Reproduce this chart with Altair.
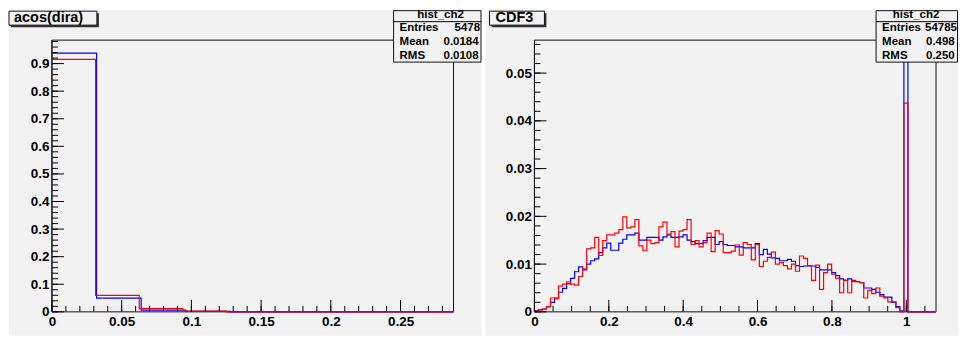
import altair as alt
import pandas as pd

FONT = "Liberation Sans"
BG = "#f2f2f2"
W, H = 402, 272
BOTTOM = 296  # bottom of the grey pads, relative to plot top

# ---------------- left panel: acos(dira) ----------------
acos_title = "acos(dira)"
acos_blue_width = 0.032
acos_red_width = 0.0313
acos_blue = [0.938, 0.0496, 0.0060, 0.0015, 0.0, 0.0, 0.0, 0.0, 0.0]
acos_red = [0.915, 0.0600, 0.0120, 0.0025, 0.0, 0.0, 0.0, 0.0, 0.0]
acos_xmax = 0.288
acos_ymax = 0.985
acos_xlabels = [0, 0.05, 0.1, 0.15, 0.2, 0.25]
acos_ylabels = [0, 0.1, 0.2, 0.3, 0.4, 0.5, 0.6, 0.7, 0.8, 0.9]
acos_xminor = [round(i * 0.01, 4) for i in range(0, 29)]
acos_yminor = [round(i * 0.02, 4) for i in range(0, 50)]
acos_stats = ["54785", "0.01848", "0.01087"]

# ---------------- right panel: CDF3 ----------------
cdf_title = "CDF3"
cdf_width = 0.0108
cdf_blue = [
    0.0002, 0.0004, 0.0006, 0.0011, 0.0020, 0.0029, 0.0041, 0.0049, 0.0059, 0.0070,
    0.0084, 0.0094, 0.0088, 0.0100, 0.0107, 0.0111, 0.0124, 0.0134, 0.0144, 0.0129,
    0.0129, 0.0144, 0.0152, 0.0161, 0.0161, 0.0165, 0.0150, 0.0150, 0.0156, 0.0156,
    0.0156, 0.0150, 0.0157, 0.0161, 0.0156, 0.0156, 0.0157, 0.0161, 0.0150, 0.0147,
    0.0143, 0.0143, 0.0149, 0.0156, 0.0156, 0.0141, 0.0147, 0.0141, 0.0139, 0.0139,
    0.0136, 0.0136, 0.0134, 0.0134, 0.0134, 0.0143, 0.0120, 0.0131, 0.0121, 0.0113,
    0.0112, 0.0107, 0.0107, 0.0110, 0.0106, 0.0097, 0.0095, 0.0096, 0.0096, 0.0096,
    0.0093, 0.0088, 0.0088, 0.0088, 0.0082, 0.0076, 0.0069, 0.0066, 0.0069, 0.0064,
    0.0063, 0.0061, 0.0050, 0.0050, 0.0047, 0.0041, 0.0036, 0.0031, 0.0031, 0.0020,
    0.0011, 0.0002, 0.0542, 0.0, 0.0, 0.0, 0.0, 0.0, 0.0, 0.0,
]
cdf_red = [
    0.0001, 0.0004, 0.0006, 0.0011, 0.0029, 0.0027, 0.0054, 0.0058, 0.0063, 0.0058,
    0.0056, 0.0074, 0.0090, 0.0132, 0.0134, 0.0156, 0.0118, 0.0149, 0.0161, 0.0161,
    0.0165, 0.0172, 0.0199, 0.0176, 0.0178, 0.0193, 0.0138, 0.0128, 0.0150, 0.0143,
    0.0145, 0.0178, 0.0188, 0.0163, 0.0168, 0.0136, 0.0169, 0.0172, 0.0193, 0.0141,
    0.0149, 0.0136, 0.0145, 0.0165, 0.0126, 0.0170, 0.0163, 0.0124, 0.0124, 0.0127,
    0.0140, 0.0119, 0.0145, 0.0141, 0.0109, 0.0141, 0.0095, 0.0106, 0.0114, 0.0125,
    0.0100, 0.0103, 0.0097, 0.0090, 0.0100, 0.0085, 0.0117, 0.0112, 0.0097, 0.0066,
    0.0098, 0.0047, 0.0082, 0.0100, 0.0079, 0.0070, 0.0040, 0.0066, 0.0040, 0.0066,
    0.0063, 0.0061, 0.0029, 0.0045, 0.0038, 0.0050, 0.0033, 0.0029, 0.0021, 0.0021,
    0.0009, 0.0000, 0.0437, 0.0, 0.0, 0.0, 0.0, 0.0, 0.0, 0.0,
]
cdf_xmax = 1.08
cdf_ymax = 0.0569
cdf_xlabels = [0, 0.2, 0.4, 0.6, 0.8, 1]
cdf_ylabels = [0, 0.01, 0.02, 0.03, 0.04, 0.05]
cdf_xminor = [round(i * 0.05, 4) for i in range(0, 22)]
cdf_yminor = [round(i * 0.002, 4) for i in range(0, 29)]
cdf_stats = ["54785", "0.4985", "0.2505"]

stat_name = "hist_ch2"
stat_labels = ["Entries", "Mean", "RMS"]

one = pd.DataFrame({"k": [0]})


def steps(values, width, xmax):
    rows = [{"x": round(i * width, 6), "y": v} for i, v in enumerate(values)]
    end = round(len(values) * width, 6)
    rows.append({"x": end, "y": values[-1]})
    if xmax > end + 1e-9:
        rows.append({"x": xmax, "y": 0.0})
    return pd.DataFrame(rows)


def rect(x1, x2, y1, y2, fill, stroke="transparent", sw=0):
    return alt.Chart(one).mark_rect(fill=fill, stroke=stroke, strokeWidth=sw).encode(
        x=alt.value(x1), x2=alt.value(x2), y=alt.value(y1), y2=alt.value(y2))


def hline(x1, x2, y, color="black", sw=1):
    return alt.Chart(one).mark_rule(color=color, strokeWidth=sw).encode(
        x=alt.value(x1), x2=alt.value(x2), y=alt.value(y))


def text(s, x, y, align="left", size=11.5, limit=0):
    kw = dict(align=align, baseline="middle", font=FONT, fontWeight="bold",
              fontSize=size, color="black")
    if limit > 0:
        kw["limit"] = limit
        kw["ellipsis"] = "\u200b"
    return alt.Chart(one).mark_text(**kw).encode(
        x=alt.value(x), y=alt.value(y), text=alt.value(s))


def panel(title, blue, red, bw, rw, xmax, ymax, xlabels, ylabels,
          xmajor, xminor, ymajor, yminor, stats, geo):
    xs = alt.Scale(domain=[0, xmax], nice=False, zero=False)
    ys = alt.Scale(domain=[0, ymax], nice=False, zero=False)
    common = dict(format="~g", title="", labelOverlap=False, zindex=2,
                  domain=False, ticks=False, grid=False,
                  labelFont=FONT, labelFontWeight="bold", labelFontSize=13.5,
                  labelColor="black")
    xa = alt.Axis(values=xlabels, labelFlush=False, labelPadding=3, **common)
    ya = alt.Axis(values=ylabels, labelPadding=3, **common)

    def X(f):
        return alt.X(f, type="quantitative", scale=xs, axis=xa)

    def Y(f):
        return alt.Y(f, type="quantitative", scale=ys, axis=ya)

    layers = []
    if geo.get("gap"):
        g = geo["gap"]
        layers.append(rect(g[0], g[1], -30, BOTTOM, "white"))
    layers.append(rect(geo["bg"][0], geo["bg"][1], -30, BOTTOM, BG))

    # frame (drawn before the histograms, as ROOT does)
    layers.append(rect(0, W, 0, H, "transparent", "#111111", 1))

    # histograms
    bdf = steps(blue, bw, xmax)
    rdf = steps(red, rw, xmax)
    layers.append(alt.Chart(bdf).mark_line(interpolate="step-after", color="#0000ff",
                                           strokeWidth=1.2, clip=False)
                  .encode(x=X("x"), y=Y("y")))
    layers.append(alt.Chart(rdf).mark_line(interpolate="step-after", color="#ff0000",
                                           strokeWidth=1.2, clip=False)
                  .encode(x=X("x"), y=Y("y")))

    # ticks (inside frame)
    xmaj = pd.DataFrame({"v": xmajor})
    xmin = pd.DataFrame({"v": xminor})
    ymaj = pd.DataFrame({"v": ymajor})
    ymin = pd.DataFrame({"v": yminor})
    layers.append(alt.Chart(xmaj).mark_rule(color="black", strokeWidth=1)
                  .encode(x=X("v"), y=alt.value(H - 0.5), y2=alt.value(H - 12)))
    layers.append(alt.Chart(xmin).mark_rule(color="black", strokeWidth=1)
                  .encode(x=X("v"), y=alt.value(H - 0.5), y2=alt.value(H - 6)))
    layers.append(alt.Chart(ymaj).mark_rule(color="black", strokeWidth=1)
                  .encode(y=Y("v"), x=alt.value(0), x2=alt.value(12)))
    layers.append(alt.Chart(ymin).mark_rule(color="black", strokeWidth=1)
                  .encode(y=Y("v"), x=alt.value(0), x2=alt.value(6)))
    # left axis line over the histogram outlines
    layers.append(alt.Chart(one).mark_rule(color="#111111", strokeWidth=1)
                  .encode(x=alt.value(0), y=alt.value(0), y2=alt.value(H)))

    # title box with shadow
    t = geo["tbox"]
    layers.append(rect(t[0] + 2, t[1] + 2, -27, -13, "#333333"))
    layers.append(rect(t[0], t[1], -29, -15, BG, "#111111", 1))
    layers.append(text(title, geo["ttext"], -22, size=14.5))

    # stat box
    s = geo["sbox"]
    layers.append(rect(s[0], s[1], -29.5, 22, BG, "#111111", 1))
    layers.append(hline(s[0], s[1], -18.5))
    layers.append(text(stat_name, geo["shdr"], -25.5, align="center"))
    rows_y = [-12, 2, 15.5]
    for lab, val, vx, ry in zip(stat_labels, stats, geo["svals"], rows_y):
        layers.append(text(lab, geo["slab"], ry))
        layers.append(text(val, vx, ry, limit=geo["sright"] - vx))

    return alt.layer(*layers).properties(width=W, height=H)


left_geo = dict(bg=(-43, 430), tbox=(-43, 45), ttext=-38,
                sbox=(342, 429.5), shdr=389, slab=348,
                svals=[403, 392, 392], sright=433)
right_geo = dict(gap=(-51, -49), bg=(-49, 424), tbox=(-45, 10), ttext=-39,
                 sbox=(342, 423.5), shdr=382, slab=348,
                 svals=[391, 392, 392], sright=424)

left = panel(acos_title, acos_blue, acos_red, acos_blue_width, acos_red_width,
             acos_xmax, acos_ymax, acos_xlabels, acos_ylabels,
             acos_xlabels, acos_xminor, acos_ylabels, acos_yminor,
             acos_stats, left_geo)
right = panel(cdf_title, cdf_blue, cdf_red, cdf_width, cdf_width,
              cdf_xmax, cdf_ymax, cdf_xlabels, cdf_ylabels,
              cdf_xlabels, cdf_xminor, cdf_ylabels, cdf_yminor,
              cdf_stats, right_geo)

chart = (
    alt.hconcat(left, right, spacing=0)
    .properties(padding=0, background="white")
    .configure_view(stroke="transparent")
)

chart.save("out.html", embed_options={"renderer": "svg", "actions": False})
